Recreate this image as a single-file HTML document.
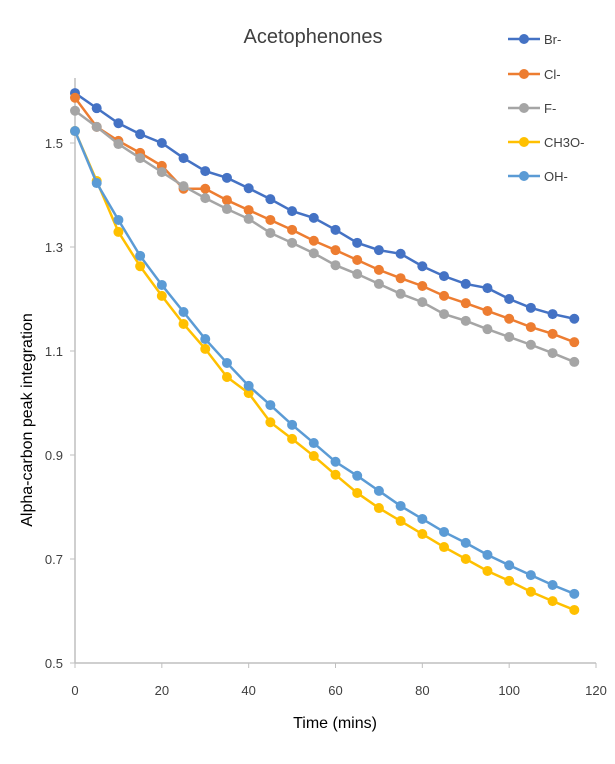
<!DOCTYPE html>
<html><head><meta charset="utf-8"><style>
body{margin:0;background:#fff;}
svg text{font-family:"Liberation Sans",sans-serif;fill:#404040;}
</style></head><body>
<svg width="615" height="759">
<text x="313" y="43" font-size="20" text-anchor="middle">Acetophenones</text>
<text transform="translate(32,420) rotate(-90)" font-size="16" text-anchor="middle" fill="#000" style="fill:#000">Alpha-carbon peak integration</text>
<text x="335" y="728" font-size="16" text-anchor="middle" style="fill:#000">Time  (mins)</text>
<g id="axes"></g><g id="series"></g><g id="legend"></g>
</svg>
<script>
const times=[0,5,10,15,20,25,30,35,40,45,50,55,60,65,70,75,80,85,90,95,100,105,110,115];
const seriesNames=["Br-","Cl-","F-","CH3O-","OH-"];
const seriesColors=["#4472C4","#ED7D31","#A5A5A5","#FFC000","#5B9BD5"];
const brValues=[1.596,1.567,1.538,1.517,1.5,1.471,1.446,1.433,1.413,1.392,1.369,1.356,1.333,1.308,1.294,1.287,1.263,1.244,1.229,1.221,1.2,1.183,1.171,1.162];
const clValues=[1.587,1.531,1.504,1.481,1.456,1.412,1.412,1.39,1.371,1.352,1.333,1.312,1.294,1.275,1.256,1.24,1.225,1.206,1.192,1.177,1.162,1.146,1.133,1.117];
const fValues=[1.562,1.531,1.498,1.471,1.444,1.417,1.394,1.373,1.354,1.327,1.308,1.288,1.265,1.248,1.229,1.21,1.194,1.171,1.158,1.142,1.127,1.112,1.096,1.079];
const ch3oValues=[1.523,1.427,1.329,1.263,1.206,1.152,1.104,1.05,1.019,0.963,0.931,0.898,0.862,0.827,0.798,0.773,0.748,0.723,0.7,0.677,0.658,0.637,0.619,0.602];
const ohValues=[1.523,1.423,1.352,1.283,1.227,1.175,1.123,1.077,1.033,0.996,0.958,0.923,0.887,0.86,0.831,0.802,0.777,0.752,0.731,0.708,0.688,0.669,0.65,0.633];
const xTicks=[0,20,40,60,80,100,120];
const yTicks=[0.5,0.7,0.9,1.1,1.3,1.5];
const yTickLabels=["0.5","0.7","0.9","1.1","1.3","1.5"];

const NS="http://www.w3.org/2000/svg";
const X=v=>75+(v/120)*521;
const Y=v=>663-(v-0.5)/0.2*104;
function mk(t,a,p){const e=document.createElementNS(NS,t);for(const k in a)e.setAttribute(k,a[k]);p.appendChild(e);return e;}
const axes=document.getElementById('axes');
let yl=mk('line',{x1:75,y1:78,x2:75,y2:663,stroke:'#bfbfbf','stroke-width':1.5},axes);


let xl=mk('line',{x1:75,y1:663,x2:596,y2:663,stroke:'#bfbfbf','stroke-width':1.5},axes);


xTicks.forEach(t=>{
 const tk=mk('line',{x1:X(t),y1:663,x2:X(t),y2:668,stroke:'#bfbfbf'},axes);
 
 
 const tx=mk('text',{x:X(t),y:695,'font-size':13,'text-anchor':'middle'},axes);tx.textContent=t;
 
 
});
yTicks.forEach((t,i)=>{
 const tk=mk('line',{x1:70,y1:Y(t),x2:75,y2:Y(t),stroke:'#bfbfbf'},axes);
 
 
 const tx=mk('text',{x:63,y:Y(t)+5,'font-size':13,'text-anchor':'end'},axes);tx.textContent=yTickLabels[i];
 
 
});
const all=[brValues,clValues,fValues,ch3oValues,ohValues];
const sg=document.getElementById('series');
all.forEach((vals,si)=>{
 const g=mk('g',{},sg);
 
 
 const pl=mk('polyline',{points:vals.map((v,i)=>X(times[i])+','+Y(v)).join(' '),fill:'none',stroke:seriesColors[si],'stroke-width':2.5},g);
 
 
 vals.forEach((v,i)=>{
  const c=mk('circle',{cx:X(times[i]),cy:Y(v),r:5,fill:seriesColors[si]},g);
  
  
 });
});
const lg=document.getElementById('legend');
const ly=[39,74,108,142,176];
seriesNames.forEach((n,i)=>{
 const g=mk('g',{},lg);
 
 
 mk('line',{x1:508,y1:ly[i],x2:540,y2:ly[i],stroke:seriesColors[i],'stroke-width':2.5},g);
 mk('circle',{cx:524,cy:ly[i],r:5,fill:seriesColors[i]},g);
 const t=mk('text',{x:544,y:ly[i]+5,'font-size':13},g);t.textContent=n;
});
</script>
</body></html>
